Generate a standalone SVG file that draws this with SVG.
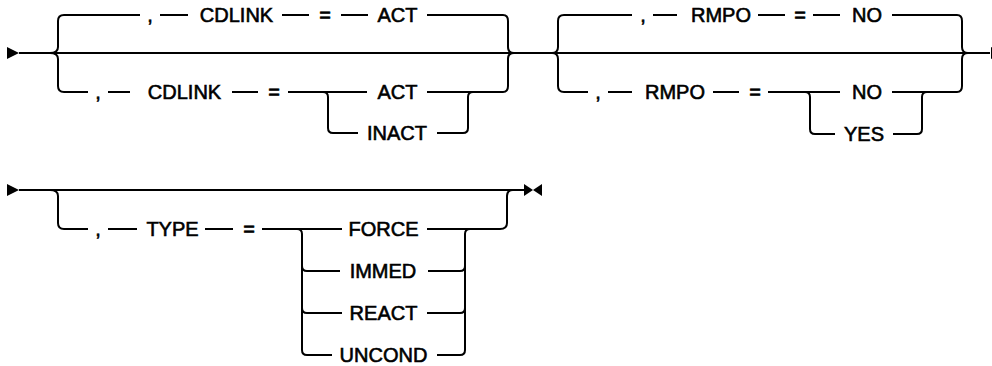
<svg xmlns="http://www.w3.org/2000/svg" width="992" height="366" viewBox="0 0 992 366">
<style>
.c{fill:none;stroke:#000;stroke-width:2}
.t{font-family:"Liberation Sans",Arial,sans-serif;font-size:20px;fill:#000;stroke:#000;stroke-width:0.6;text-anchor:middle}
.a{fill:#000;stroke:none}
</style>
<rect width="992" height="366" fill="#fff"/>
<g id="connectors">
<path class="c" d="M19,53 H990"/>
<path class="c" d="M50,53 Q58,53 58,47 V21 Q58,15 64,15 H140"/>
<path class="c" d="M50,53 Q58,53 58,59 V86 Q58,92 64,92 H88"/>
<path class="c" d="M160,15 H188 M282,15 H309 M341,15 H368 M427,15 H503"/>
<path class="c" d="M108,92 H130 M232,92 H258 M288,92 H367 M427,92 H503"/>
<path class="c" d="M503,15 Q508,15 508,21 V47 Q508,53 514,53"/>
<path class="c" d="M503,92 Q508,92 508,86 V59 Q508,53 514,53"/>
<path class="c" d="M323,92 Q328,92 328,97 V128 Q328,133 333,133 H358"/>
<path class="c" d="M437,133 H463 Q468,133 468,128 V97 Q468,92 473,92"/>
<path class="c" d="M552,53 Q558,53 558,47 V21 Q558,15 564,15 H632"/>
<path class="c" d="M552,53 Q558,53 558,59 V86 Q558,92 564,92 H588"/>
<path class="c" d="M653,15 H677 M758,15 H785 M813,15 H840 M892,15 H957"/>
<path class="c" d="M608,92 H632 M713,92 H739 M768,92 H840 M892,92 H957"/>
<path class="c" d="M957,15 Q962,15 962,21 V47 Q962,53 968,53"/>
<path class="c" d="M957,92 Q962,92 962,86 V59 Q962,53 968,53"/>
<path class="c" d="M805,92 Q810,92 810,97 V129 Q810,134 815,134 H835"/>
<path class="c" d="M893,134 H917 Q922,134 922,129 V97 Q922,92 927,92"/>
<path class="c" d="M19,190 H525"/>
<path class="c" d="M50,190 Q58,190 58,196 V223 Q58,229 64,229 H88"/>
<path class="c" d="M108,229 H137 M205,229 H233 M262,229 H342 M427,229 H500"/>
<path class="c" d="M500,229 Q507,229 507,223 V196 Q507,190 513,190"/>
<path class="c" d="M297,229 Q302,229 302,234 V350 Q302,355 307,355 H332"/>
<path class="c" d="M302,266 Q302,271 307,271 H340"/>
<path class="c" d="M302,308 Q302,313 307,313 H342"/>
<path class="c" d="M437,355 H460 Q465,355 465,350 V234 Q465,229 470,229"/>
<path class="c" d="M428,271 H460 Q465,271 465,266"/>
<path class="c" d="M427,313 H460 Q465,313 465,308"/>
<polygon class="a" points="7,47 19,53 7,59"/>
<polygon class="a" points="991,47 1003,53 991,59"/>
<polygon class="a" points="7,184 19,190 7,196"/>
<polygon class="a" points="524,184 533,190 524,196"/>
<polygon class="a" points="542,184 533,190 542,196"/>
</g>
<g id="n1"><text class="t" x="150" y="22">,</text></g>
<g id="n2"><text class="t" x="236.5" y="22">CDLINK</text></g>
<g id="n3"><text class="t" x="325" y="22">=</text></g>
<g id="n4"><text class="t" x="397.5" y="22">ACT</text></g>
<g id="n5"><text class="t" x="98" y="99">,</text></g>
<g id="n6"><text class="t" x="184.5" y="99">CDLINK</text></g>
<g id="n7"><text class="t" x="274" y="99">=</text></g>
<g id="n8"><text class="t" x="397.5" y="99">ACT</text></g>
<g id="n9"><text class="t" x="397" y="140">INACT</text></g>
<g id="n10"><text class="t" x="643" y="22">,</text></g>
<g id="n11"><text class="t" x="721" y="22">RMPO</text></g>
<g id="n12"><text class="t" x="800" y="22">=</text></g>
<g id="n13"><text class="t" x="867" y="22">NO</text></g>
<g id="n14"><text class="t" x="598" y="99">,</text></g>
<g id="n15"><text class="t" x="675" y="99">RMPO</text></g>
<g id="n16"><text class="t" x="755" y="99">=</text></g>
<g id="n17"><text class="t" x="867" y="99">NO</text></g>
<g id="n18"><text class="t" x="864" y="141">YES</text></g>
<g id="n19"><text class="t" x="98" y="236">,</text></g>
<g id="n20"><text class="t" x="172.5" y="236">TYPE</text></g>
<g id="n21"><text class="t" x="249" y="236">=</text></g>
<g id="n22"><text class="t" x="383.5" y="236">FORCE</text></g>
<g id="n23"><text class="t" x="383" y="278">IMMED</text></g>
<g id="n24"><text class="t" x="383.5" y="320">REACT</text></g>
<g id="n25"><text class="t" x="383.5" y="362">UNCOND</text></g>
</svg>
